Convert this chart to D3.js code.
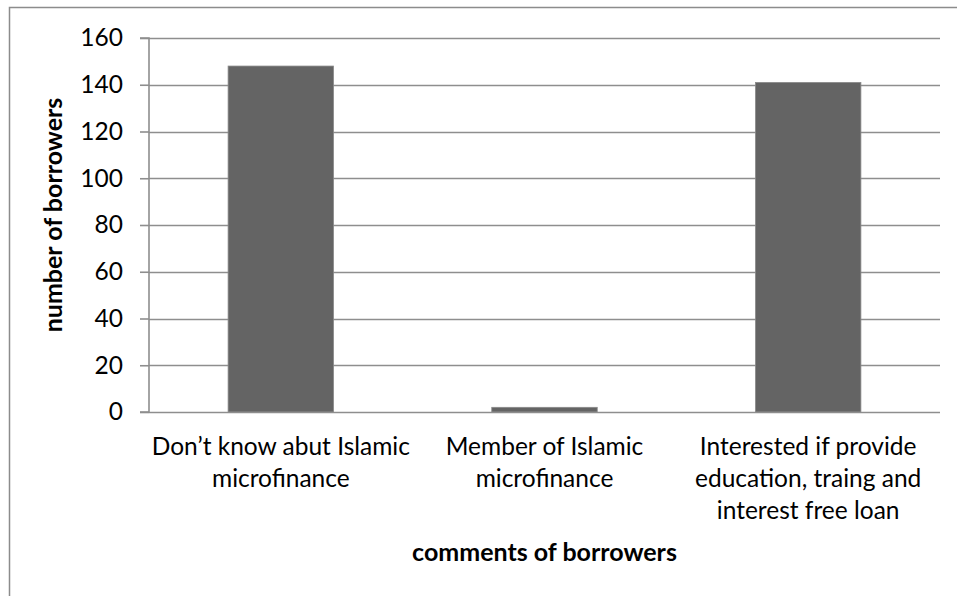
<!DOCTYPE html>
<html>
<head>
<meta charset="utf-8">
<script src="https://cdn.jsdelivr.net/npm/d3@7"></script>
<style>
  html, body { margin: 0; padding: 0; background: #fff; }
  svg { display: block; font-family: Lato, "Open Sans", sans-serif; }
</style>
</head>
<body>
<svg id="chart" width="957" height="596"></svg>
<script>
const categories = [
  ["Don\u2019t know abut Islamic", "microfinance"],
  ["Member of Islamic", "microfinance"],
  ["Interested if provide", "education, traing and", "interest free loan"]
];
const values = [148, 2, 141];
const yTicks = [0, 20, 40, 60, 80, 100, 120, 140, 160];
const xTitle = "comments of borrowers";
const yTitle = "number of borrowers";

const svg = d3.select("#chart");
const margin = { left: 149, right: 17, top: 38, bottom: 184 };
const W = 957, H = 596;
const plotW = W - margin.left - margin.right;
const plotH = H - margin.top - margin.bottom;

// outer border
svg.append("rect")
  .attr("x", 9.5).attr("y", 7.5)
  .attr("width", 960).attr("height", 620)
  .attr("fill", "none").attr("stroke", "#8c8c8c").attr("stroke-width", 1.5);

const g = svg.append("g").attr("transform", `translate(${margin.left},${margin.top})`);

const x = d3.scaleBand().domain(d3.range(categories.length)).range([0, plotW]).paddingInner(0.6).paddingOuter(0.3);
const y = d3.scaleLinear().domain([0, 160]).range([plotH, 0]);

// gridlines
g.append("g").selectAll("line").data(yTicks.filter(d => d > 0)).join("line")
  .attr("x1", 0).attr("x2", plotW)
  .attr("y1", d => Math.round(y(d)) + 0.5).attr("y2", d => Math.round(y(d)) + 0.5)
  .attr("stroke", "#8e8e8e").attr("stroke-width", 1.6);

// bars
g.append("g").selectAll("rect").data(values).join("rect")
  .attr("x", (d, i) => x(i))
  .attr("y", d => y(d))
  .attr("width", x.bandwidth())
  .attr("height", d => plotH - y(d))
  .attr("fill", "#646464")
  .attr("stroke", "#8a8a8a").attr("stroke-width", 0.8);

// y axis
const yAxis = d3.axisLeft(y).tickValues(yTicks).tickSize(9).tickPadding(17).tickFormat(d3.format("d"));
const ya = g.append("g").call(yAxis);
ya.select(".domain").attr("stroke", "#8e8e8e").attr("stroke-width", 1.6).attr("d", `M-9,${plotH}H0V0H-9`);
ya.selectAll(".tick line").attr("stroke", "#8e8e8e").attr("stroke-width", 1.6);
ya.selectAll(".tick text").attr("font-size", 24.5).attr("fill", "#000").attr("font-family", "Lato");

// x axis line (baseline)
g.append("line").attr("x1", 0).attr("x2", plotW).attr("y1", plotH + 0.5).attr("y2", plotH + 0.5)
  .attr("stroke", "#8e8e8e").attr("stroke-width", 1.6);

// x category labels
const lab = g.append("g").selectAll("text").data(categories).join("text")
  .attr("text-anchor", "middle")
  .attr("font-size", 24.5)
  .attr("fill", "#000")
  .attr("transform", (d, i) => `translate(${x(i) + x.bandwidth() / 2},0)`);
lab.selectAll("tspan").data(d => d).join("tspan")
  .attr("x", 0)
  .attr("y", (d, j) => plotH + 43 + j * 32)
  .text(d => d);

// axis titles
g.append("text")
  .attr("x", plotW / 2).attr("y", plotH + 149)
  .attr("text-anchor", "middle").attr("font-weight", "bold").attr("font-size", 25)
  .text(xTitle);

g.append("text")
  .attr("transform", `translate(${62 - margin.left},${plotH / 2 - 10}) rotate(-90)`)
  .attr("text-anchor", "middle").attr("font-weight", "bold").attr("font-size", 25)
  .text(yTitle);
</script>
</body>
</html>
